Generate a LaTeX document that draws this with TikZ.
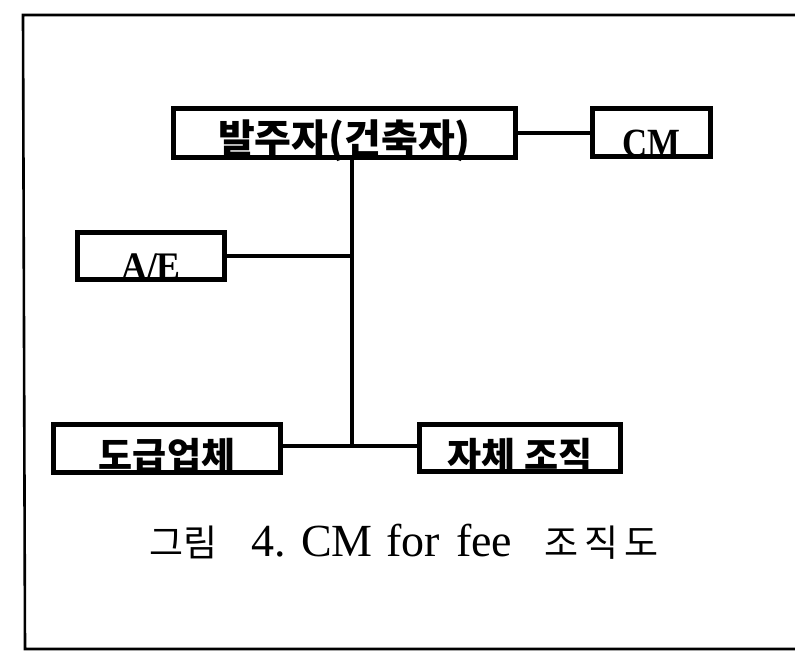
\documentclass[tikz,border=0pt]{standalone}
\usepackage{fontspec}
\setmainfont{Liberation Serif}
\newfontfamily\krfont{Noto Sans CJK KR}
\usetikzlibrary{calc}

\begin{document}
\begin{tikzpicture}[x=1pt,y=-1pt]
	\path [use as bounding box] (0,0) rectangle (795,657);
	\tikzstyle{box} = [draw, line width=4.2pt, inner sep=0pt, font=\bfseries\fontsize{37}{37}\selectfont]
	\tikzstyle{link} = [line width=3.4pt]
	\draw [line width=2.6pt] (800,15) -- (23,15) -- (25,649) -- (800,649);
	\coordinate (O) at (344.5,133);
	\coordinate (C) at (651.5,132.5);
	\coordinate (E) at (151,256);
	\coordinate (K) at (167,448.5);
	\coordinate (S) at (520,448);
	\coordinate (J1) at (352,256);
	\coordinate (J2) at (352,446);
	\node [box, minimum width=342pt, text height=45pt, text depth=4pt, font=\bfseries\fontsize{40}{40}\selectfont] (owner) at (O) {\krfont 발주자(건축자)};
	\node [box, minimum width=118pt, text height=48pt, text depth=0pt, font=\bfseries\fontsize{40}{40}\selectfont] (cm) at (C) {\scalebox{0.87}[1]{CM}};
	\node [box, minimum width=147pt, text height=47pt, text depth=0pt, font=\bfseries\fontsize{39}{39}\selectfont] (ae) at (E) {\scalebox{0.92}[1]{A/E}};
	\node [box, minimum width=227pt, text height=44.5pt, text depth=3.5pt] (contractor) at (K) {\krfont 도급업체};
	\node [box, minimum width=201pt, text height=44.5pt, text depth=2.5pt] (inhouse) at (S) {\krfont 자체 조직};
	\draw [link] (owner.east) -- (owner.east -| cm.west);
	\draw [link] (J1 |- owner.south) -- (J2);
	\draw [link] (ae.east) -- (ae.east -| J1);
	\draw [link] (J2 -| contractor.east) -- (J2 -| inhouse.west);
	\node [anchor=base, font=\fontsize{46}{46}\selectfont] (caption) at (404,556) {{\krfont\fontsize{37}{37}\selectfont 그림}\hspace{34pt}4.\hspace{15pt}CM\hspace{14pt}for\hspace{16pt}fee\hspace{32pt}{\krfont\fontsize{37}{37}\selectfont 조\hspace{6pt}직\hspace{6pt}도}};
\end{tikzpicture}
\end{document}
